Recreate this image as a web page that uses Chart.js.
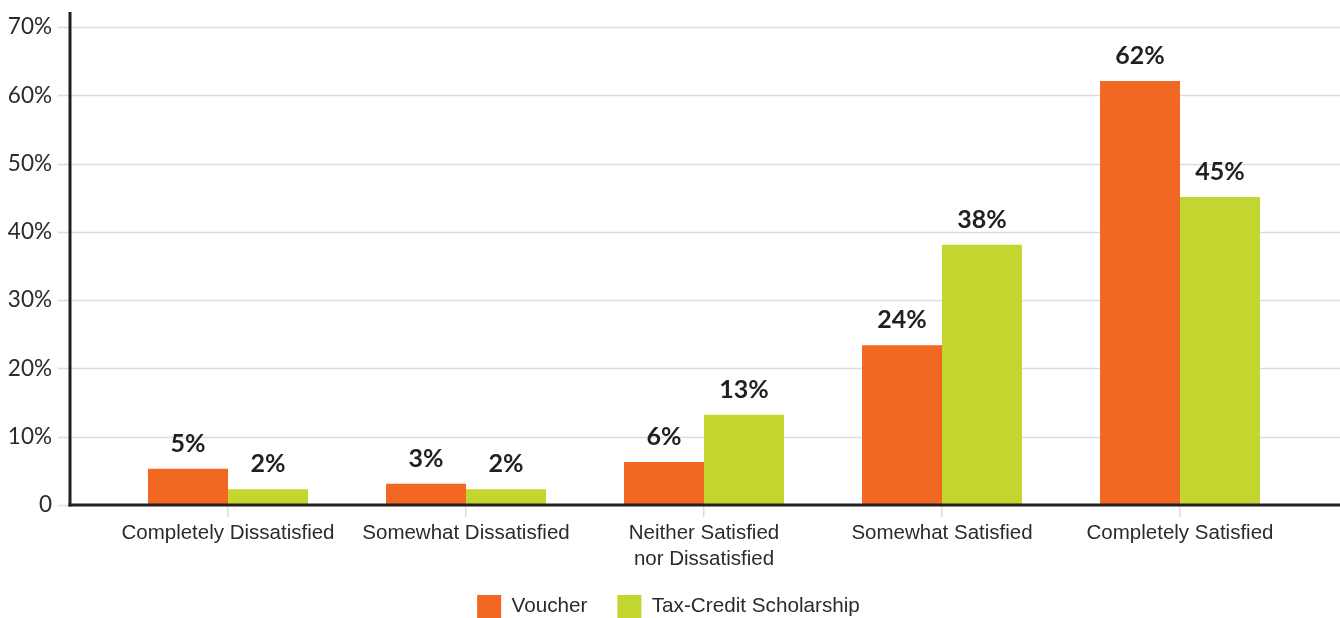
<!DOCTYPE html>
<html>
<head>
<meta charset="utf-8">
<script src="https://cdn.jsdelivr.net/npm/chart.js@4/dist/chart.umd.min.js"></script>
<style>
html,body{margin:0;padding:0;background:#fff;}
#wrap{position:relative;width:1340px;height:618px;}
</style>
</head>
<body>
<div id="wrap"><canvas id="c" width="1340" height="618"></canvas></div>
<script>
const categories = ["Completely Dissatisfied", "Somewhat Dissatisfied", ["Neither Satisfied", "nor Dissatisfied"], "Somewhat Satisfied", "Completely Satisfied"];
const voucherValues = [5.3, 3.1, 6.3, 23.4, 62.1];
const taxCreditValues = [2.3, 2.3, 13.2, 38.1, 45.1];
const voucherLabels = ["5%", "3%", "6%", "24%", "62%"];
const taxCreditLabels = ["2%", "2%", "13%", "38%", "45%"];
const yTicks = [0, 10, 20, 30, 40, 50, 60, 70];

const ORANGE = "#F26722";
const GREEN = "#C3D52F";
const AXIS = "#231f20";
const GRID = "#dcdcdc";
const LEGEND_SHIFT = 19;

const decorPlugin = {
  id: "decor",
  afterLayout(chart) {
    const lg = chart.legend;
    if (lg) {
      lg.left += LEGEND_SHIFT;
      lg.right += LEGEND_SHIFT;
    }
  },
  beforeDatasetsDraw(chart) {
    const ctx = chart.ctx, y = chart.scales.y;
    ctx.save();
    ctx.strokeStyle = GRID;
    ctx.lineWidth = 1.5;
    yTicks.forEach(v => {
      const py = Math.round(y.getPixelForValue(v)) + 0.5;
      ctx.beginPath();
      ctx.moveTo(58, py);
      ctx.lineTo(v === 0 ? 70 : 1340, py);
      ctx.stroke();
    });
    ctx.restore();
  },
  afterDatasetsDraw(chart) {
    const ctx = chart.ctx, y = chart.scales.y;
    const p0 = y.getPixelForValue(0);
    ctx.save();
    ctx.strokeStyle = AXIS;
    ctx.lineWidth = 3;
    ctx.beginPath();
    ctx.moveTo(70, 12);
    ctx.lineTo(70, p0 + 1.5);
    ctx.stroke();
    ctx.beginPath();
    ctx.moveTo(68.5, p0);
    ctx.lineTo(1340, p0);
    ctx.stroke();
    // value labels
    ctx.fillStyle = "#231f20";
    ctx.font = "bold 25px Lato, 'Open Sans', sans-serif";
    ctx.textAlign = "center";
    ctx.textBaseline = "middle";
    const labelSets = [voucherLabels, taxCreditLabels];
    chart.data.datasets.forEach((ds, di) => {
      const meta = chart.getDatasetMeta(di);
      meta.data.forEach((bar, i) => {
        ctx.fillText(labelSets[di][i], bar.x, bar.y - 25);
      });
    });
    ctx.restore();
  }
};

new Chart(document.getElementById("c"), {
  type: "bar",
  data: {
    labels: categories,
    datasets: [
      { label: "Voucher", data: voucherValues, backgroundColor: ORANGE, borderWidth: 0 },
      { label: "Tax-Credit Scholarship", data: taxCreditValues, backgroundColor: GREEN, borderWidth: 0 }
    ]
  },
  options: {
    responsive: false,
    animation: false,
    devicePixelRatio: 1,
    layout: { padding: { top: 27, right: 41, left: 0, bottom: -10 } },
    datasets: { bar: { barPercentage: 1, categoryPercentage: 0.672 } },
    plugins: {
      legend: {
        position: "bottom",
        labels: {
          boxWidth: 24, boxHeight: 23, padding: 30,
          color: "#2b2b2b",
          font: { family: "'Liberation Sans', Arial, sans-serif", size: 20.7 }
        }
      },
      tooltip: { enabled: false }
    },
    scales: {
      x: {
        offset: true,
        afterFit(scale) { scale.height = 60; },
        border: { display: false },
        grid: { offset: false, drawOnChartArea: false, drawTicks: true, tickLength: 12, color: GRID, lineWidth: 1.5 },
        ticks: {
          color: "#2b2b2b", padding: 3, maxRotation: 0, autoSkip: false,
          font: { family: "'Liberation Sans', Arial, sans-serif", size: 20.5, lineHeight: 1.27 }
        }
      },
      y: {
        min: 0, max: 70,
        afterFit(scale) { scale.width = 109; },
        border: { display: false },
        grid: { display: true, drawOnChartArea: false, drawTicks: true, tickLength: 55, color: "rgba(0,0,0,0)" },
        afterBuildTicks(scale) { scale.ticks = yTicks.map(v => ({ value: v })); },
        ticks: {
          padding: 2,
          color: "#2b2b2b",
          font: { family: "Lato, 'Open Sans', sans-serif", size: 22.5 },
          callback: v => v === 0 ? "0" : v + "%"
        }
      }
    }
  },
  plugins: [decorPlugin]
});
</script>
</body>
</html>
